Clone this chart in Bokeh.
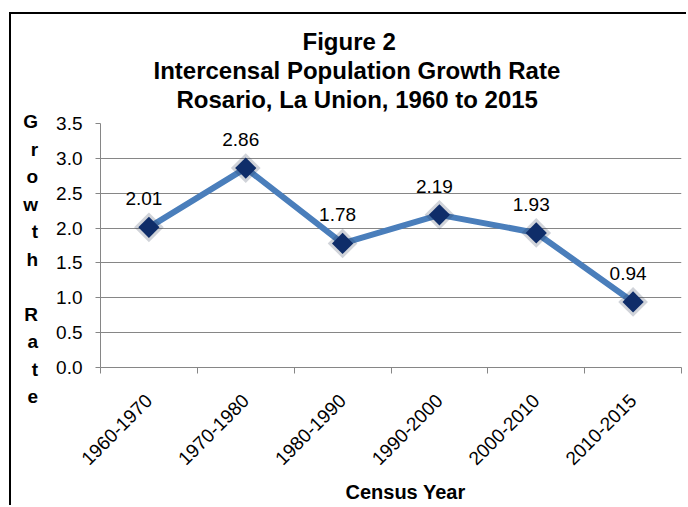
from math import pi
from bokeh.plotting import figure
from bokeh.models import FixedTicker, PrintfTickFormatter, Title, ColumnDataSource
from bokeh.core.properties import value
from bokeh.embed import file_html
from bokeh.resources import INLINE

# ---- data ----
categories = ["1960-1970", "1970-1980", "1980-1990", "1990-2000", "2000-2010", "2010-2015"]
growth_rate = [2.01, 2.86, 1.78, 2.19, 1.93, 0.94]
y_ticks = [0.0, 0.5, 1.0, 1.5, 2.0, 2.5, 3.0, 3.5]
title_lines = ["Figure 2", "Intercensal Population Growth Rate", "Rosario, La Union, 1960 to 2015"]
y_title = "Growth Rate"
x_title = "Census Year"

FONT = "Liberation Sans"
GRID = "#868686"

n = len(categories)
xs = [i + 0.5 for i in range(n)]
src = ColumnDataSource(dict(x=xs, y=growth_rate, cat=categories,
                            lbl=["%.2f" % v for v in growth_rate]))

p = figure(width=677, height=493, x_range=(0, n), y_range=(0, y_ticks[-1]),
           output_backend="svg", toolbar_location=None, title=None,
           min_border_left=89, min_border_top=109, min_border_right=7,
           min_border_bottom=138, margin=(12, 0, 0, 9))
p.styles = {"border-top": "2px solid black", "border-left": "2px solid black"}
p.outline_line_color = None
p.background_fill_color = "white"
p.border_fill_color = "white"

# spacer between frame and title block
p.add_layout(Title(text=" ", text_font_size="1px", standoff=8), "above")
# title: one Title per line, bottom line first
for line, off in reversed(list(zip(title_lines, [202, 53, 76]))):
    p.add_layout(Title(text=line, align="left", offset=off, standoff=0,
                       text_font=FONT, text_font_style="bold", text_font_size="24px",
                       text_color="black"), "above")

# y axis
ya = p.yaxis[0]
ya.ticker = FixedTicker(ticks=y_ticks)
ya.formatter = PrintfTickFormatter(format="%.1f")
ya.axis_line_color = GRID
ya.major_tick_line_color = GRID
ya.major_tick_out = 5
ya.major_tick_in = 0
ya.minor_tick_line_color = None
ya.major_label_standoff = 13
ya.major_label_text_font = FONT
ya.major_label_text_font_size = "19px"
ya.major_label_text_color = "black"
# stacked letters; a leading blank line shifts the block down half a line
ya.axis_label = "\n".join([" "] + [ch if ch.strip() else " " for ch in y_title])
if "axis_label_orientation" in ya.properties():
    ya.axis_label_orientation = "horizontal"
ya.axis_label_text_font = FONT
ya.axis_label_text_font_style = "bold"
ya.axis_label_text_font_size = "19px"
ya.axis_label_text_line_height = 1.31
ya.axis_label_text_color = "black"
ya.axis_label_standoff = 15

# x axis
xa = p.xaxis[0]
xa.ticker = FixedTicker(ticks=xs, minor_ticks=list(range(n + 1)))
xa.major_label_overrides = {x: c for x, c in zip(xs, categories)}
xa.major_label_orientation = pi / 4
xa.axis_line_color = GRID
xa.major_tick_line_color = None
xa.major_tick_out = 0
xa.major_tick_in = 0
xa.minor_tick_line_color = GRID
xa.minor_tick_out = 6
xa.minor_tick_in = 0
xa.major_label_standoff = 24
xa.major_label_text_font = FONT
xa.major_label_text_font_size = "19px"
xa.major_label_text_color = "black"

p.add_layout(Title(text=x_title, align="left", offset=245, standoff=10,
                   text_font=FONT, text_font_style="bold", text_font_size="20px",
                   text_color="black"), "below")

p.xgrid.grid_line_color = None
p.ygrid.ticker = FixedTicker(ticks=y_ticks)
p.ygrid.grid_line_color = GRID
p.ygrid.grid_line_width = 1

# series
p.line("x", "y", source=src, line_color="#4A7EBB", line_width=6)
p.scatter("x", "y", source=src, marker="square", angle=pi / 4, size=21,
          fill_color="#2B3550", fill_alpha=0.22, line_color=None)
p.scatter("x", "y", source=src, marker="square", angle=pi / 4, size=15,
          fill_color="#0F2D69", line_color=None)
p.text("x", "y", text="lbl", source=src, text_align="center", text_baseline="bottom",
       x_offset=-5, y_offset=-22, text_font=value(FONT), text_font_size="19px",
       text_color="black")

open("out.html", "w").write(file_html(p, INLINE))
